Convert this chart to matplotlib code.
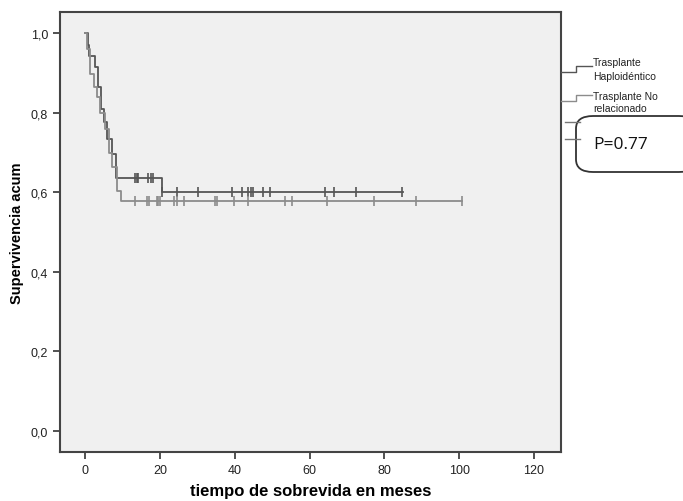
import matplotlib
matplotlib.use("Agg")
import matplotlib.pyplot as plt
from matplotlib.patches import FancyBboxPatch
from matplotlib.lines import Line2D

plt.rcParams['font.family'] = ['Liberation Sans', 'DejaVu Sans']

# Trasplante Haploidéntico (darker curve)
haplo_t = [0, 0.6, 1.0, 2.6, 3.4, 4.2, 5.0, 5.8, 7.0, 8.2, 20.4]
haplo_s = [1.0, 0.97, 0.944, 0.916, 0.864, 0.81, 0.776, 0.734, 0.696, 0.637, 0.60]
haplo_end = 85.0
haplo_cens = [13.3, 13.8, 14.2, 16.8, 17.5, 18.0, 20.4, 24.6, 30.2, 39.1, 41.8,
              43.6, 44.2, 44.7, 47.6, 49.4, 64.0, 66.6, 72.5, 84.7]

# Trasplante No relacionado (lighter curve)
norel_t = [0, 0.4, 1.2, 2.2, 3.0, 4.0, 5.2, 6.2, 7.2, 8.4, 9.6]
norel_s = [1.0, 0.96, 0.898, 0.864, 0.84, 0.80, 0.76, 0.70, 0.664, 0.604, 0.578]
norel_end = 100.8
norel_cens = [13.3, 16.4, 17.1, 19.1, 19.5, 19.9, 23.7, 24.4, 26.4, 34.7, 35.3,
              39.7, 43.6, 53.3, 55.3, 64.6, 77.2, 88.3, 100.8]

x_ticks = [0, 20, 40, 60, 80, 100, 120]
y_ticks = [0.0, 0.2, 0.4, 0.6, 0.8, 1.0]


def surv_at(times, surv, t):
    s = surv[0]
    for ti, si in zip(times, surv):
        if ti <= t:
            s = si
    return s


fig = plt.figure(figsize=(6.83, 5.02), dpi=100)
ax = fig.add_axes([0.0878, 0.0976, 0.7335, 0.876])
ax.set_facecolor('#f0f0f0')

series = [
    (haplo_t, haplo_s, haplo_end, haplo_cens, '#555555'),
    (norel_t, norel_s, norel_end, norel_cens, '#8c8c8c'),
]
for times, surv, end, cens, col in series:
    ax.step(times + [end], surv + [surv[-1]], where='post', color=col, lw=1.3)
    ax.plot(cens, [surv_at(times, surv, c) for c in cens], linestyle='none',
            marker='|', markersize=7, markeredgewidth=1.2, color=col)

ax.set_xlim(-6.8, 127.2)
ax.set_ylim(-0.053, 1.053)
ax.set_xticks(x_ticks)
ax.set_yticks(y_ticks)
ax.set_yticklabels([f"{v:.1f}".replace('.', ',') for v in y_ticks])
ax.tick_params(direction='out', length=5, width=1.2, color='#333333',
               labelsize=9, labelcolor='#222222')
for sp in ax.spines.values():
    sp.set_color('#444444')
    sp.set_linewidth(1.5)

ax.set_xlabel('tiempo de sobrevida en meses', fontsize=12, fontweight='bold',
              labelpad=5)
ax.set_ylabel('Supervivencia acum', fontsize=10.5, fontweight='bold', labelpad=5)

# legend drawn outside the axes
W, H = 683.0, 502.0
def fx(px):
    return px / W
def fy(py):
    return 1 - py / H

legend_items = [
    (['Trasplante', 'Haploidéntico'], [63, 77], 73, 67, '#555555'),
    (['Trasplante No', 'relacionado'], [97, 109], 102, 96, '#8c8c8c'),
]
for lines, ys, ylow, yhigh, col in legend_items:
    fig.add_artist(Line2D([fx(561), fx(576), fx(576), fx(592)],
                          [fy(ylow), fy(ylow), fy(yhigh), fy(yhigh)],
                          color=col, lw=1.0))
    for txt, yy in zip(lines, ys):
        fig.text(fx(593), fy(yy), txt, fontsize=7.5, va='center', ha='left',
                 color='#222222',
                 family=['Liberation Sans Narrow', 'Liberation Sans'])

for yy in [123, 140]:
    fig.add_artist(Line2D([fx(565), fx(580)], [fy(yy), fy(yy)],
                          color='#777777', lw=1.0))

box = FancyBboxPatch((fx(576), fy(173)), fx(120), 56 / H,
                     boxstyle='round,pad=0,rounding_size=0.025',
                     transform=fig.transFigure, facecolor='white',
                     edgecolor='#333333', lw=1.3, clip_on=False)
fig.add_artist(box)
fig.text(fx(621), fy(145), 'P=0.77', fontsize=12.5, ha='center', va='center',
         color='#111111', family=['Open Sans', 'DejaVu Sans'])

fig.savefig('out.png', dpi=100)
